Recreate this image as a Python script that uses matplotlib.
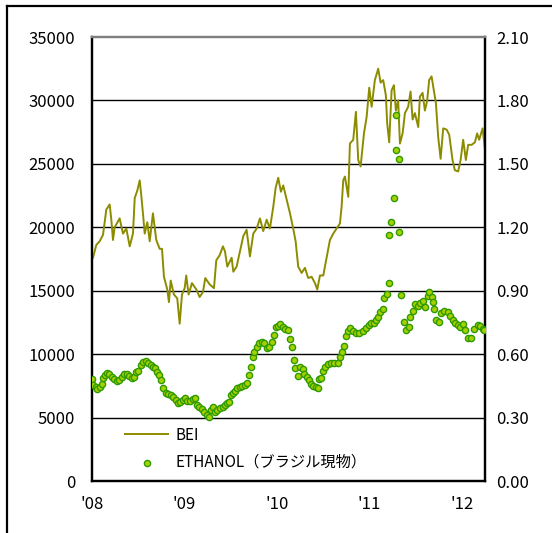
import matplotlib
matplotlib.use("Agg")
import matplotlib.pyplot as plt
from matplotlib.lines import Line2D

plt.rcParams['font.family'] = ['Noto Sans CJK JP', 'DejaVu Sans']

# BEI (left axis), dates as decimal years
bei_t = [2008.011, 2008.046, 2008.083, 2008.119, 2008.155, 2008.191, 2008.209, 2008.227, 2008.245,
         2008.299, 2008.335, 2008.371, 2008.408, 2008.443, 2008.462, 2008.490, 2008.516, 2008.533,
         2008.551, 2008.570, 2008.598, 2008.624, 2008.659, 2008.695, 2008.732, 2008.757, 2008.778,
         2008.814, 2008.832, 2008.851, 2008.886, 2008.922, 2008.948, 2008.973, 2009.002, 2009.019,
         2009.045, 2009.081, 2009.128, 2009.164, 2009.200, 2009.225, 2009.272, 2009.319, 2009.344,
         2009.381, 2009.416, 2009.438, 2009.463, 2009.510, 2009.528, 2009.564, 2009.600, 2009.636,
         2009.672, 2009.708, 2009.744, 2009.781, 2009.816, 2009.852, 2009.889, 2009.924, 2009.960,
         2009.986, 2010.014, 2010.043, 2010.068, 2010.105, 2010.141, 2010.176, 2010.202, 2010.230,
         2010.267, 2010.303, 2010.338, 2010.375, 2010.411, 2010.436, 2010.465, 2010.501, 2010.537,
         2010.573, 2010.609, 2010.645, 2010.681, 2010.699, 2010.717, 2010.735, 2010.771, 2010.789,
         2010.825, 2010.854, 2010.879, 2010.905, 2010.941, 2010.970, 2010.998, 2011.024, 2011.059,
         2011.095, 2011.121, 2011.149, 2011.178, 2011.192, 2011.214, 2011.240, 2011.265, 2011.286,
         2011.311, 2011.330, 2011.359, 2011.384, 2011.419, 2011.445, 2011.467, 2011.492, 2011.528,
         2011.546, 2011.575, 2011.600, 2011.625, 2011.646, 2011.672, 2011.697, 2011.719, 2011.744,
         2011.770, 2011.798, 2011.835, 2011.863, 2011.899, 2011.924, 2011.960, 2011.986, 2012.014,
         2012.043, 2012.068, 2012.105, 2012.141, 2012.165, 2012.187, 2012.224, 2012.249]
bei_v = [17600, 18600, 18900, 19400, 21400, 21800, 20600, 19000, 20000,
         20700, 19500, 19900, 18500, 19500, 22300, 22900, 23700, 22500,
         21100, 19500, 20400, 18900, 21100, 19000, 18300, 18300, 16100,
         15100, 14100, 15800, 14700, 14400, 12400, 14700, 15200, 16200,
         14700, 15600, 15100, 14500, 14900, 16000, 15500, 15200, 17400,
         17800, 18500, 18100, 16900, 17600, 16500, 16900, 18100, 19300,
         19800, 17700, 19500, 19900, 20700, 19700, 20600, 19900, 21600,
         23100, 23900, 22800, 23300, 22200, 21100, 19900, 18900, 16900,
         16400, 16800, 16000, 16100, 15600, 15100, 16200, 16200, 17600,
         19000, 19500, 19900, 20300, 21600, 23700, 24000, 22400, 26600,
         26900, 29100, 25300, 24800, 27400, 28700, 31000, 29500, 31600,
         32500, 31400, 31600, 30400, 28200, 26700, 30800, 31200, 29200,
         30000, 26600, 27400, 29000, 29500, 30700, 28500, 29000, 27900,
         30300, 30600, 29200, 30000, 31600, 31900, 30800, 29800, 27100,
         25400, 27800, 27700, 27300, 25300, 24500, 24400, 25300, 26900,
         25300, 26500, 26500, 26700, 27400, 26900, 27800, 26200]

# ETHANOL, Brazil spot (right axis)
eth_t = [2008.000, 2008.014, 2008.040, 2008.057, 2008.086, 2008.105, 2008.122, 2008.141, 2008.159,
         2008.187, 2008.213, 2008.238, 2008.267, 2008.295, 2008.321, 2008.346, 2008.375, 2008.403,
         2008.429, 2008.454, 2008.476, 2008.501, 2008.526, 2008.555, 2008.581, 2008.609, 2008.635,
         2008.663, 2008.681, 2008.699, 2008.724, 2008.746, 2008.771, 2008.797, 2008.825, 2008.851,
         2008.879, 2008.908, 2008.933, 2008.951, 2008.981, 2009.005, 2009.030, 2009.059, 2009.089,
         2009.114, 2009.138, 2009.160, 2009.186, 2009.211, 2009.240, 2009.265, 2009.286, 2009.311,
         2009.330, 2009.355, 2009.384, 2009.413, 2009.438, 2009.463, 2009.484, 2009.499, 2009.521,
         2009.546, 2009.571, 2009.600, 2009.625, 2009.654, 2009.679, 2009.701, 2009.716, 2009.737,
         2009.755, 2009.781, 2009.809, 2009.835, 2009.863, 2009.889, 2009.917, 2009.943, 2009.968,
         2009.989, 2010.008, 2010.032, 2010.062, 2010.090, 2010.116, 2010.141, 2010.159, 2010.187,
         2010.198, 2010.224, 2010.249, 2010.278, 2010.295, 2010.321, 2010.343, 2010.368, 2010.392,
         2010.422, 2010.440, 2010.451, 2010.476, 2010.501, 2010.522, 2010.548, 2010.584, 2010.619,
         2010.656, 2010.684, 2010.703, 2010.728, 2010.746, 2010.764, 2010.789, 2010.818, 2010.854,
         2010.890, 2010.926, 2010.962, 2010.991, 2011.016, 2011.045, 2011.070, 2011.095, 2011.117,
         2011.143, 2011.160, 2011.186, 2011.208, 2011.214, 2011.232, 2011.268, 2011.286, 2011.292,
         2011.322, 2011.322, 2011.341, 2011.370, 2011.395, 2011.424, 2011.441, 2011.474, 2011.495,
         2011.521, 2011.546, 2011.575, 2011.603, 2011.629, 2011.646, 2011.672, 2011.683, 2011.701,
         2011.719, 2011.748, 2011.773, 2011.809, 2011.845, 2011.870, 2011.899, 2011.928, 2011.954,
         2011.978, 2012.008, 2012.036, 2012.062, 2012.097, 2012.133, 2012.170, 2012.195, 2012.224,
         2012.241]
eth_v = [0.481, 0.454, 0.443, 0.435, 0.443, 0.459, 0.486, 0.501, 0.509,
         0.506, 0.493, 0.481, 0.473, 0.478, 0.490, 0.506, 0.506, 0.497,
         0.486, 0.493, 0.517, 0.522, 0.549, 0.564, 0.569, 0.560, 0.549,
         0.541, 0.533, 0.517, 0.501, 0.478, 0.438, 0.418, 0.411, 0.407,
         0.399, 0.383, 0.367, 0.375, 0.383, 0.391, 0.378, 0.380, 0.386,
         0.391, 0.359, 0.351, 0.339, 0.328, 0.312, 0.304, 0.336, 0.349,
         0.328, 0.336, 0.347, 0.351, 0.359, 0.367, 0.372, 0.407, 0.418,
         0.427, 0.438, 0.443, 0.449, 0.454, 0.465, 0.501, 0.541, 0.585,
         0.612, 0.635, 0.654, 0.659, 0.651, 0.628, 0.635, 0.659, 0.691,
         0.730, 0.733, 0.743, 0.727, 0.717, 0.714, 0.670, 0.632, 0.572,
         0.533, 0.497, 0.538, 0.528, 0.506, 0.493, 0.478, 0.459, 0.449,
         0.443, 0.438, 0.481, 0.486, 0.522, 0.541, 0.553, 0.557, 0.557,
         0.560, 0.585, 0.612, 0.639, 0.686, 0.711, 0.722, 0.711, 0.701,
         0.701, 0.711, 0.722, 0.738, 0.749, 0.749, 0.761, 0.777, 0.801,
         0.812, 0.864, 0.884, 0.935, 1.164, 1.226, 1.337, 1.566, 1.731,
         1.522, 1.179, 0.880, 0.753, 0.714, 0.727, 0.777, 0.805, 0.837,
         0.828, 0.840, 0.853, 0.822, 0.875, 0.895, 0.872, 0.848, 0.812,
         0.761, 0.753, 0.793, 0.805, 0.801, 0.780, 0.761, 0.749, 0.738,
         0.727, 0.743, 0.714, 0.678, 0.678, 0.717, 0.738, 0.733, 0.717,
         0.714]

left_ticks = [0, 5000, 10000, 15000, 20000, 25000, 30000, 35000]
right_ticks = [0.0, 0.3, 0.6, 0.9, 1.2, 1.5, 1.8, 2.1]
year_ticks = [2008, 2009, 2010, 2011, 2012]
year_labels = ["'08", "'09", "'10", "'11", "'12"]

fig = plt.figure(figsize=(5.52, 5.33), dpi=100)
ax = fig.add_axes([92 / 552, 1 - 481 / 533, 393 / 552, 444 / 533])
ax2 = ax.twinx()

for v in left_ticks[1:-1]:
    ax.axhline(v, color="black", linewidth=1.0, zorder=1)

ln, = ax.plot(bei_t, bei_v, color="#8c8c00", linewidth=1.4, zorder=3, label="BEI")
sc = ax2.scatter(eth_t, eth_v, s=20, facecolor="#a6d100", edgecolor="#2f9a00",
                 linewidth=1.0, zorder=4, label="ETHANOL（ブラジル現物）")

ax.set_xlim(2008, 2012.25)
ax.set_ylim(0, 35000)
ax2.set_ylim(0, 2.1)
ax.set_yticks(left_ticks)
ax.set_yticklabels([str(v) for v in left_ticks])
ax2.set_yticks(right_ticks)
ax2.set_yticklabels([f"{v:.2f}" for v in right_ticks])
ax.set_xticks(year_ticks)
ax.set_xticklabels(year_labels)

ax.tick_params(axis="y", length=0, pad=12, labelsize=12)
ax.tick_params(axis="x", length=0, pad=11, labelsize=12)
ax2.tick_params(axis="y", length=0, pad=8, labelsize=12)

for a in (ax, ax2):
    a.spines["left"].set_linewidth(1.6)
    a.spines["right"].set_linewidth(1.6)
    a.spines["bottom"].set_linewidth(1.6)
    a.spines["top"].set_color("#808080")
    a.spines["top"].set_linewidth(1.6)

ax.legend([ln, sc], ["BEI", "ETHANOL（ブラジル現物）"], loc="upper left",
          bbox_to_anchor=(0.085, 0.122), frameon=False, fontsize=11,
          handlelength=2.8, handletextpad=0.5, labelspacing=0.65, borderpad=0,
          borderaxespad=0, scatterpoints=1)

# outer frame (cut at right and bottom)
fig.add_artist(Line2D([7 / 552, 7 / 552], [0, 1 - 6 / 533], color="black", linewidth=1.6,
                      transform=fig.transFigure))
fig.add_artist(Line2D([7 / 552, 1], [1 - 6 / 533, 1 - 6 / 533], color="black", linewidth=1.6,
                      transform=fig.transFigure))

fig.savefig("out.png", dpi=100)
